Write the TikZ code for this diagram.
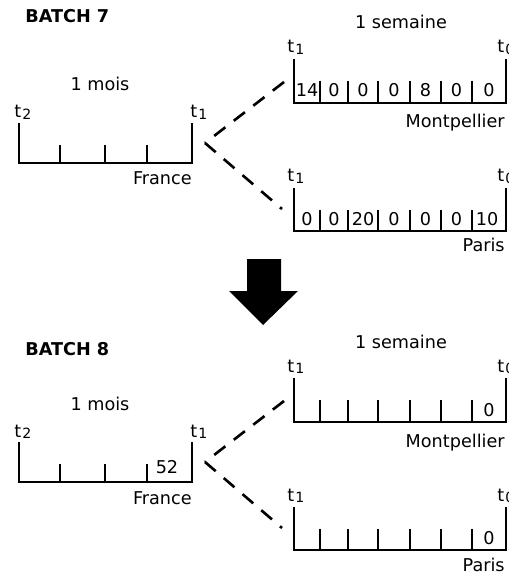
\documentclass[tikz,border=0pt]{standalone}
\usepackage{fontspec}
\setmainfont{DejaVu Sans}
\usetikzlibrary{positioning}
\tikzstyle{txt}=[inner sep=0pt]
\tikzstyle{titre}=[txt,font=\bfseries]
\tikzstyle{trait}=[line width=1.4pt]
\tikzstyle{grad}=[line width=0.6pt]
\tikzstyle{lien}=[line width=1.5pt,dash pattern=on 8pt off 6pt]
\newcommand{\tind}[1]{t\kern0.6pt\raisebox{-0.8pt}{\fontsize{8}{9}\selectfont #1}}

\begin{document}
\begin{tikzpicture}[x=0.567pt,y=-0.567pt]
\useasboundingbox (0,0) rectangle (508,574);

\foreach \b/\dy/\dt in {7/0/0,8/319/332}{
  \node (batch\b) [titre,anchor=base west] at (25,{23+\dt}) {BATCH \b};
  \begin{scope}[shift={(0,\dy)}]
    % France, 1 mois
    \coordinate (fg\b) at (19,123);
    \coordinate (fd\b) at (192,123);
    \draw[trait] (fg\b) -- (19,163) -- (192,163) -- (fd\b);
    \foreach \x in {60,105,147} \draw[grad] (\x,145) -- (\x,163);
    \node (mois\b) [txt,anchor=base] at (100,91) {1 mois};
    \node (t2f\b) [txt,anchor=base west] at (14,118) {\tind2};
    \node (t1f\b) [txt,anchor=base west] at (190,118) {\tind1};
    \node (france\b) [txt,anchor=base east] at (192,185) {France};
    \coordinate (depart\b) at (205,143);

    % Montpellier, 1 semaine
    \coordinate (mg\b) at (294,59);
    \coordinate (md\b) at (506,59);
    \draw[trait] (mg\b) -- (294,103) -- (506,103) -- (md\b);
    \foreach \x in {320,348,378,410,441,472} \draw[grad] (\x,81) -- (\x,103);
    \node (semaine\b) [txt,anchor=base] at (401,29) {1 semaine};
    \node (t1m\b) [txt,anchor=base west] at (287,53) {\tind1};
    \node (t0m\b) [txt,anchor=base west] at (497,53) {\tind0};
    \node (montpellier\b) [txt,anchor=base east] at (505,128) {Montpellier};
    \coordinate (versm\b) at (284,82);

    % Paris
    \coordinate (pg\b) at (294,188);
    \coordinate (pd\b) at (506,188);
    \draw[trait] (pg\b) -- (294,231) -- (506,231) -- (pd\b);
    \foreach \x in {320,348,378,410,441,472} \draw[grad] (\x,210) -- (\x,231);
    \node (t1p\b) [txt,anchor=base west] at (287,182) {\tind1};
    \node (t0p\b) [txt,anchor=base west] at (497,182) {\tind0};
    \node (paris\b) [txt,anchor=base east] at (505,252) {Paris};
    \coordinate (versp\b) at (282,209);

    \draw[lien] (versm\b) -- (depart\b);
    \draw[lien] (depart\b) -- (versp\b);
  \end{scope}
}

% valeurs du batch 7
\foreach \x/\v [count=\i] in {307/14,334/0,363/0,394/0,425.5/8,456.5/0,489/0}
  \node (m7c\i) [txt,anchor=base] at (\x,97) {\v};
\foreach \x/\v [count=\i] in {307/0,334/0,363/20,394/0,425.5/0,456.5/0,487/10}
  \node (p7c\i) [txt,anchor=base] at (\x,226) {\v};

% passage au batch suivant
\fill (247,259) -- (281,259) -- (281,291) -- (298,291) -- (263,325)
  -- (229,291) -- (247,291) -- cycle;

% valeurs du batch 8
\node (f8c4) [txt,anchor=base] at (167,473) {52};
\node (m8c7) [txt,anchor=base] at (489,416) {0};
\node (p8c7) [txt,anchor=base] at (489,544) {0};
\end{tikzpicture}
\end{document}
